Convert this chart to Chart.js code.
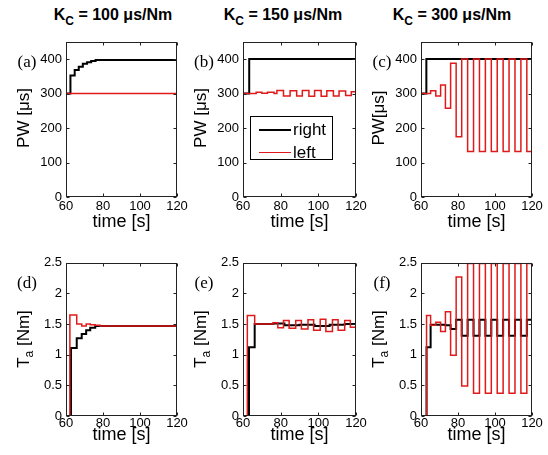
<!DOCTYPE html>
<html>
<head>
<meta charset="utf-8">
<script src="https://cdn.jsdelivr.net/npm/chart.js@4"></script>
<style>
body { margin: 0; background: #fff; }
#fig { position: relative; width: 548px; height: 455px; overflow: hidden; background: #fff;
       font-family: "Liberation Sans", Arial, sans-serif; color: #000; }
#fig canvas { position: absolute; }
.title { position: absolute; top: 6px; font-weight: bold; font-size: 16px; transform: translateX(-50%); white-space: nowrap; }
.title sub { font-size: 12px; vertical-align: -5px; line-height: 0; }
.letter { position: absolute; font-family: "Liberation Serif", "DejaVu Serif", serif; font-size: 17px; transform: translate(-50%, -50%); }
.ylab { position: absolute; font-size: 17px; white-space: nowrap; transform: translate(-50%, -50%) rotate(-90deg); }
.ylab sub { font-size: 12px; vertical-align: -4px; line-height: 0; }
.legend { position: absolute; left: 250px; top: 116px; width: 81px; height: 42px; border: 1px solid #000; background: #fff; }
.legend .ln { position: absolute; left: 8px; width: 32px; }
.legend .tx { position: absolute; left: 42px; font-size: 17px; line-height: 17px; }
</style>
</head>
<body>
<div id="fig"></div>
<script>
// ticks
const xTicks = [60, 80, 100, 120];
const pwTicks = [0, 100, 200, 300, 400];
const taTicks = [0, 0.5, 1, 1.5, 2, 2.5];
const gains = ['100', '150', '300'];

// Kc = 100 us/Nm
const tA_right = [60, 62.4, 64.7, 66.9, 69.1, 71.4, 73.6, 76, 120];
const pwA_right = [300, 352, 368, 378, 386, 391, 394, 397];
const tA_left = [60, 120];
const pwA_left = [300];
const tD_right = [60, 62.7, 65.8, 68.5, 70.9, 73.1, 75.8, 120];
const taD_right = [0, 1.11, 1.27, 1.34, 1.40, 1.44, 1.47];
const tD_left = [60, 62.1, 65.8, 68.5, 70.9, 73.1, 75.8, 78.5, 120];
const taD_left = [0, 1.65, 1.50, 1.47, 1.50, 1.49, 1.48, 1.47];

// Kc = 150 us/Nm
const tB_right = [60, 63.3, 120];
const pwB_right = [300, 400];
const tB_left = [60, 67, 70, 73, 76.5, 78, 81.5, 85, 88.5, 91.5, 95, 98, 101.5, 104.5, 108, 111, 114.5, 117.5, 120];
const pwB_left = [300, 304, 301, 304, 300, 309, 293, 308, 293, 309, 292, 309, 292, 308, 293, 307, 294, 305];
const tE_right = [60, 63.2, 66.2, 76, 82, 90, 98, 106, 114, 120];
const taE_right = [0, 1.12, 1.50, 1.51, 1.48, 1.49, 1.47, 1.49, 1.50];
const tE_left = [60, 62.3, 66.2, 76, 78.5, 81.5, 84.5, 88, 91, 94.5, 97.5, 101, 104, 107.5, 110.5, 114, 117, 120];
const taE_left = [0, 1.64, 1.50, 1.52, 1.44, 1.56, 1.43, 1.56, 1.42, 1.57, 1.40, 1.58, 1.38, 1.57, 1.40, 1.56, 1.45];

// Kc = 300 us/Nm
const tC_right = [60, 62.9, 120];
const pwC_right = [300, 400];
const tC = [60, 63, 65.2, 68, 70.6, 73.2, 76, 79, 82, 85.2, 88.4, 91.6, 94.8, 98, 101.2, 104.4, 107.6, 110.8, 114, 117.2, 120];
const pwC_left = [300, 300, 308, 293, 325, 257, 388, 175, 400, 132, 400, 132, 400, 132, 400, 132, 400, 132, 400, 132];
const taF_left = [0, 1.64, 1.48, 1.53, 1.38, 1.70, 0.99, 2.27, 0.49, 2.49, 0.37, 2.49, 0.37, 2.49, 0.37, 2.49, 0.37, 2.49, 0.37, 2.49];
const taF_right = [0, 1.12, 1.49, 1.49, 1.49, 1.48, 1.42, 1.57, 1.31, 1.57, 1.31, 1.57, 1.31, 1.57, 1.31, 1.57, 1.31, 1.57, 1.31, 1.57];

// value i holds from times[i] to times[i+1]
function steps(times, values) {
    const pts = values.map((v, i) => ({ x: times[i], y: v }));
    pts.push({ x: times[times.length - 1], y: values[values.length - 1] });
    return pts;
}

const fig = document.getElementById('fig');
const padL = 40, padT = 8, padR = 14;

// plot boxes: left, top, width, height
const panels = [
    { letter: 'a', box: [66, 38, 111, 159], yMax: 450, yTicks: pwTicks, ylab: 'PW [μs]', padB: 36, tickPad: 2,
      right: steps(tA_right, pwA_right), left: steps(tA_left, pwA_left) },
    { letter: 'b', box: [243, 38, 113, 159], yMax: 450, yTicks: pwTicks, ylab: 'PW [μs]', padB: 36, tickPad: 2,
      right: steps(tB_right, pwB_right), left: steps(tB_left, pwB_left) },
    { letter: 'c', box: [421, 38, 111, 159], yMax: 450, yTicks: pwTicks, ylab: 'PW[μs]', padB: 36, tickPad: 2,
      right: steps(tC_right, pwC_right), left: steps(tC, pwC_left) },
    { letter: 'd', box: [66, 259, 111, 157], yMax: 2.5, yTicks: taTicks, ylab: 'T<sub>a</sub> [Nm]', padB: 30, tickPad: 0,
      right: steps(tD_right, taD_right), left: steps(tD_left, taD_left) },
    { letter: 'e', box: [243, 259, 113, 157], yMax: 2.5, yTicks: taTicks, ylab: 'T<sub>a</sub> [Nm]', padB: 30, tickPad: 0,
      right: steps(tE_right, taE_right), left: steps(tE_left, taE_left) },
    { letter: 'f', box: [421, 259, 111, 157], yMax: 2.5, yTicks: taTicks, ylab: 'T<sub>a</sub> [Nm]', padB: 30, tickPad: 0,
      right: steps(tC, taF_right), left: steps(tC, taF_left) }
];

const frame = {
    id: 'frame',
    afterDraw(chart) {
        const { ctx, chartArea: a, scales } = chart;
        const l = Math.round(a.left) + 0.5, r = Math.round(a.right) - 0.5;
        const t = Math.round(a.top) + 0.5, b = Math.round(a.bottom) - 0.5;
        ctx.save();
        ctx.strokeStyle = '#222';
        ctx.lineWidth = 1;
        ctx.beginPath();
        scales.x.ticks.forEach(tk => {
            const x = Math.round(scales.x.getPixelForValue(tk.value)) + 0.5;
            ctx.moveTo(x, b); ctx.lineTo(x, b - 3);
            ctx.moveTo(x, t); ctx.lineTo(x, t + 3);
        });
        scales.y.ticks.forEach(tk => {
            const y = Math.round(scales.y.getPixelForValue(tk.value)) + 0.5;
            ctx.moveTo(l, y); ctx.lineTo(l + 3, y);
            ctx.moveTo(r, y); ctx.lineTo(r - 3, y);
        });
        ctx.stroke();
        ctx.strokeRect(l, t, r - l, b - t);
        ctx.restore();
    }
};

panels.forEach(p => {
    const [bx, by, bw, bh] = p.box;
    const canvas = document.createElement('canvas');
    const w = padL + bw + padR, h = padT + bh + p.padB;
    canvas.width = w; canvas.height = h;
    canvas.style.left = (bx - padL) + 'px';
    canvas.style.top = (by - padT) + 'px';
    canvas.style.width = w + 'px';
    canvas.style.height = h + 'px';
    fig.appendChild(canvas);

    new Chart(canvas, {
        type: 'line',
        data: {
            datasets: [
                { label: 'left', data: p.left, borderColor: '#e01a1a', borderWidth: 1.5, stepped: 'before', pointRadius: 0, fill: false },
                { label: 'right', data: p.right, borderColor: '#000', borderWidth: 2, stepped: 'before', pointRadius: 0, fill: false }
            ]
        },
        options: {
            responsive: false,
            animation: false,
            layout: { padding: { top: padT, right: padR, left: 0, bottom: 0 } },
            plugins: { legend: { display: false }, tooltip: { enabled: false } },
            scales: {
                x: {
                    type: 'linear', min: 60, max: 120,
                    afterBuildTicks: s => { s.ticks = xTicks.map(v => ({ value: v })); },
                    afterFit: s => { s.height = p.padB; },
                    grid: { display: false, drawTicks: false },
                    border: { display: false },
                    ticks: { font: { size: 13, family: 'Liberation Sans' }, color: '#000', padding: p.tickPad, maxRotation: 0 },
                    title: { display: true, text: 'time [s]', font: { size: 18, family: 'Liberation Sans' }, color: '#000', padding: 0 }
                },
                y: {
                    type: 'linear', min: 0, max: p.yMax,
                    afterBuildTicks: s => { s.ticks = p.yTicks.map(v => ({ value: v })); },
                    afterFit: s => { s.width = padL; },
                    grid: { display: false, drawTicks: false },
                    border: { display: false },
                    ticks: { font: { size: 13, family: 'Liberation Sans' }, color: '#000', padding: 4, callback: v => String(v) }
                }
            }
        },
        plugins: [frame]
    });

    const lab = document.createElement('div');
    lab.className = 'ylab';
    lab.innerHTML = p.ylab;
    lab.style.left = (bx - 42) + 'px';
    lab.style.top = (by + 80) + 'px';
    fig.appendChild(lab);

    const let_ = document.createElement('div');
    let_.className = 'letter';
    let_.textContent = '(' + p.letter + ')';
    let_.style.left = (bx - 39) + 'px';
    let_.style.top = (by + 24) + 'px';
    fig.appendChild(let_);
});

// column titles
[113, 283, 452].forEach((cx, i) => {
    const d = document.createElement('div');
    d.className = 'title';
    d.style.left = cx + 'px';
    d.innerHTML = 'K<sub>C</sub> = ' + gains[i] + ' μs/Nm';
    fig.appendChild(d);
});

// legend inside panel (b)
const leg = document.createElement('div');
leg.className = 'legend';
leg.innerHTML =
    '<div class="ln" style="top:12px;border-top:2px solid #000"></div><div class="tx" style="top:4px">right</div>' +
    '<div class="ln" style="top:35px;border-top:1.5px solid #e01a1a"></div><div class="tx" style="top:27px">left</div>';
fig.appendChild(leg);
</script>
</body>
</html>
